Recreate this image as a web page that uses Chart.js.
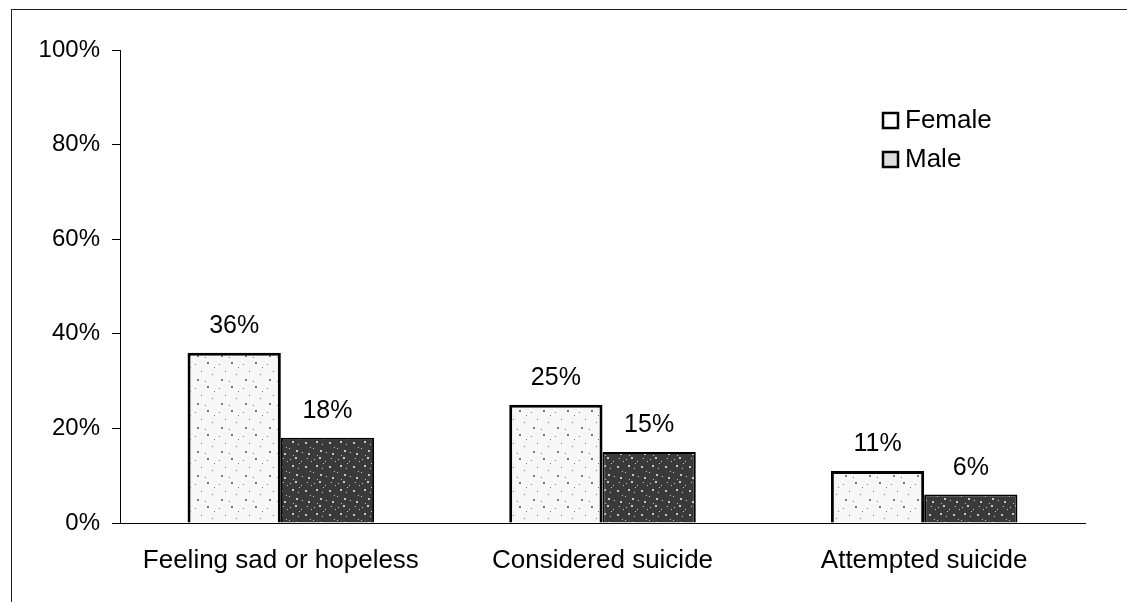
<!DOCTYPE html>
<html>
<head>
<meta charset="utf-8">
<script src="https://cdn.jsdelivr.net/npm/chart.js@4/dist/chart.umd.min.js"></script>
<style>
  html, body { margin: 0; padding: 0; background: #fff; }
  #wrap { position: relative; width: 1127px; height: 602px; }
  #frame { position: absolute; left: 11px; top: 9px; width: 1116px; height: 593px;
           border-left: 1px solid #222; border-top: 1px solid #222; pointer-events: none; }
</style>
</head>
<body>
<div id="wrap">
  <canvas id="myChart" width="1127" height="602"></canvas>
  <div id="frame"></div>
</div>
<script>
const categories = ['Feeling sad or hopeless', 'Considered suicide', 'Attempted suicide'];
const seriesNames = ['Female', 'Male'];
const femaleValues = [36, 25, 11];
const maleValues = [18, 15, 6];
const yTicks = [0, 20, 40, 60, 80, 100];

const FONT = '"Liberation Sans", Arial, sans-serif';

// speckled fills, like the scanned original
function speckle(base, dot, spots) {
  const c = document.createElement('canvas');
  c.width = 24; c.height = 24;
  const g = c.getContext('2d');
  g.fillStyle = base;
  g.fillRect(0, 0, 24, 24);
  g.fillStyle = dot;
  spots.forEach(function(s) { g.fillRect(s[0], s[1], s[2], s[2]); });
  return g.createPattern(c, 'repeat');
}
const femaleFill = speckle('#f7f7f7', '#777', [[3,4,1],[15,2,2],[9,11,1],[20,14,1],[5,19,2],[13,21,1],[22,7,1]]);
const maleFill = speckle('#3a3a3a', '#c8c8c8', [[2,3,1],[7,1,2],[13,5,1],[19,2,1],[4,9,2],[10,12,1],[17,10,2],[22,15,1],
                                              [1,16,1],[8,18,2],[14,20,1],[20,21,2],[11,7,1],[5,23,1],[23,5,1]]);

const labelsPlugin = {
  id: 'labels',
  afterDatasetsDraw(chart) {
    const ctx = chart.ctx;
    ctx.save();
    ctx.fillStyle = '#000';
    ctx.font = '25px ' + FONT;
    ctx.textAlign = 'center';
    ctx.textBaseline = 'middle';
    chart.data.datasets.forEach(function(ds, i) {
      chart.getDatasetMeta(i).data.forEach(function(bar, j) {
        ctx.fillText(ds.data[j] + '%', bar.x, bar.y - 27);
      });
    });

    // legend, top right inside the plot
    const lx = 882, ly = [120, 159];
    chart.data.datasets.forEach(function(ds, i) {
      const y = ly[i];
      ctx.fillStyle = i === 0 ? '#fff' : '#ddd';
      ctx.fillRect(lx, y - 8, 17, 17);
      ctx.lineWidth = 2.5;
      ctx.strokeStyle = '#000';
      ctx.strokeRect(lx + 1, y - 7, 15, 15);
      ctx.fillStyle = '#000';
      ctx.font = '26px ' + FONT;
      ctx.textAlign = 'left';
      ctx.fillText(ds.label, lx + 23, y + 1);
    });
    ctx.restore();
  }
};

const ctx = document.getElementById('myChart').getContext('2d');

const myChart = new Chart(ctx, {
  type: 'bar',
  data: {
    labels: categories,
    datasets: [{
      label: seriesNames[0],
      data: femaleValues,
      backgroundColor: femaleFill,
      borderColor: '#000',
      borderWidth: 3,
    }, {
      label: seriesNames[1],
      data: maleValues,
      backgroundColor: maleFill,
      borderColor: '#000',
      borderWidth: 2,
    }]
  },
  plugins: [labelsPlugin],
  options: {
    responsive: false,
    animation: false,
    layout: {
      padding: {top: 50, right: 42, left: 0, bottom: 0}
    },
    datasets: {
      bar: {
        barPercentage: 1,
        categoryPercentage: 0.58,
      }
    },
    plugins: {
      legend: {display: false},
      tooltip: {enabled: false},
    },
    scales: {
      x: {
        grid: {display: false, drawTicks: false},
        border: {display: true, color: '#000', width: 1},
        ticks: {
          color: '#000',
          padding: 22,
          font: {family: FONT, size: 26},
        },
        afterFit: function(scale) { scale.height = 79; }
      },
      y: {
        min: 0,
        max: 100,
        afterBuildTicks: function(scale) {
          scale.ticks = yTicks.map(function(v) { return {value: v}; });
        },
        grid: {
          drawOnChartArea: false,
          drawTicks: true,
          tickLength: 8,
          color: '#000',
        },
        border: {display: true, color: '#000', width: 1},
        ticks: {
          color: '#000',
          padding: 12,
          font: {family: FONT, size: 24},
          callback: function(v) { return v + '%'; }
        },
        afterFit: function(scale) { scale.width = 120; }
      }
    }
  }
});
</script>
</body>
</html>
